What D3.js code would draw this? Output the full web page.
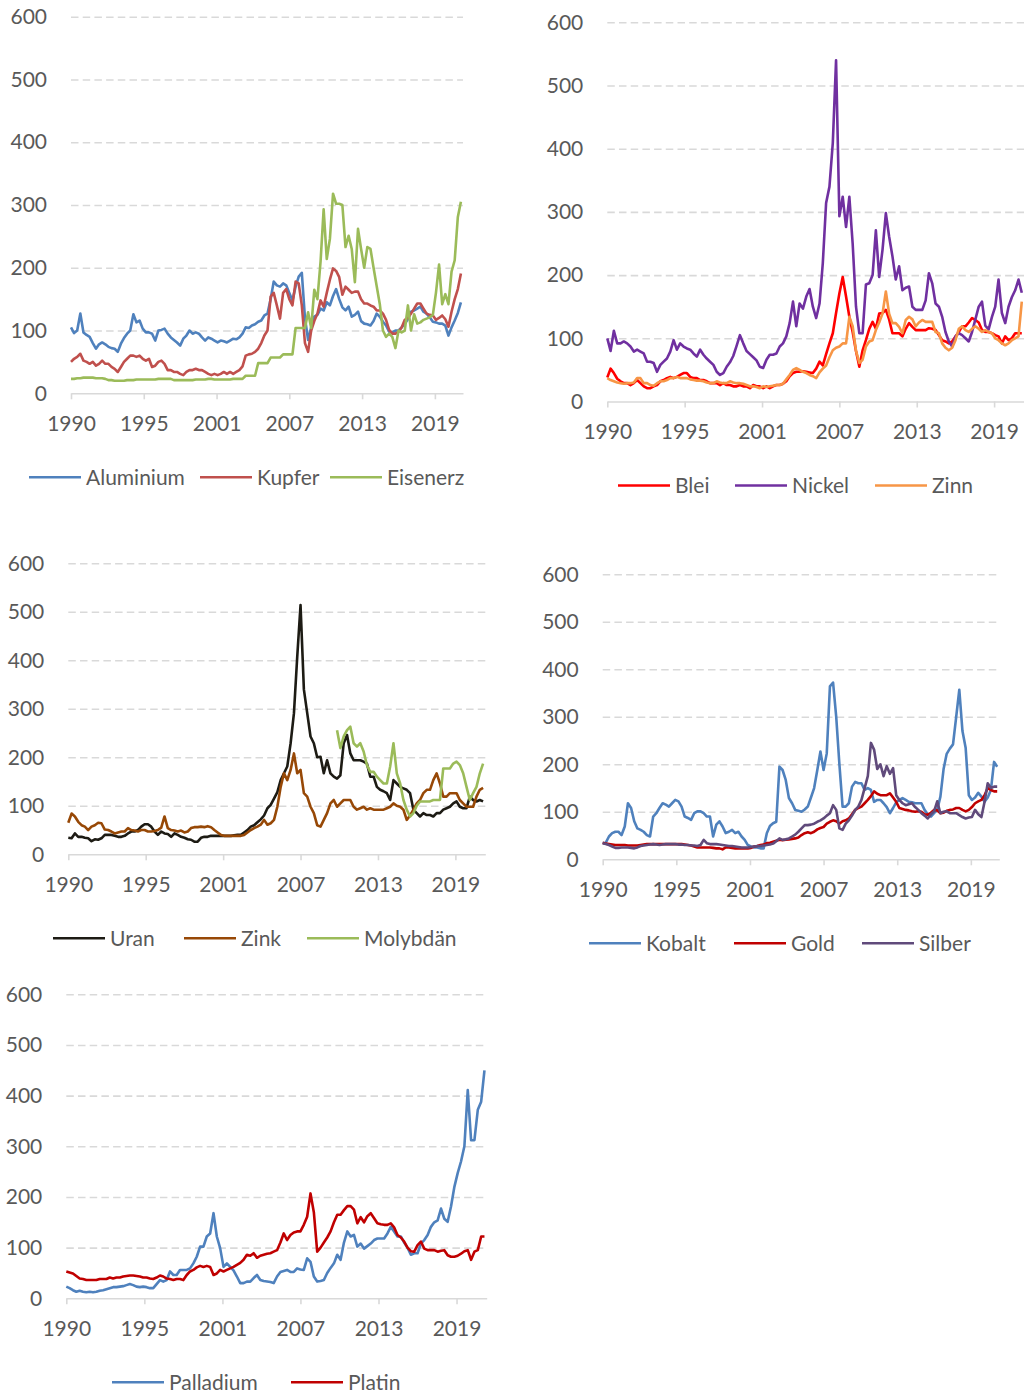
<!DOCTYPE html>
<html>
<head>
<meta charset="utf-8">
<script src="https://cdn.jsdelivr.net/npm/d3@7"></script>
<style>
  body { margin: 0; background: #fff; }
  svg { display: block; }
</style>
</head>
<body>
<div id="chart"></div>
<script>
// quarterly index values, 1990 Q1 .. 2021 Q2 (Molybdän from 2010 Q2)
const aluminium = [
  105, 96, 100, 127, 97, 93, 90, 80,
  71, 78, 81, 78, 74, 72, 71, 66,
  79, 88, 95, 100, 126, 113, 116, 103,
  97, 97, 95, 84, 100, 101, 103, 95,
  89, 85, 81, 76, 87, 92, 100, 95,
  97, 95, 89, 84, 89, 87, 84, 81,
  84, 83, 81, 84, 87, 86, 89, 95,
  105, 104, 108, 110, 114, 116, 124, 127,
  150, 178, 172, 170, 175, 172, 160, 148,
  170, 186, 192, 120, 85, 105, 122, 125,
  135, 132, 145, 140, 155, 166, 150, 137,
  132, 138, 122, 125, 130, 115, 111, 110,
  108, 115, 127, 122, 114, 108, 98, 97,
  100, 100, 105, 111, 118, 130, 132, 135,
  138, 130, 127, 121, 114, 113, 111, 111,
  108, 92, 105, 116, 128, 145
];
const kupfer = [
  50, 55, 58, 63, 52, 50, 47, 50,
  44, 47, 52, 47, 47, 42, 39, 34,
  42, 50, 55, 60, 60, 58, 60, 55,
  52, 55, 42, 44, 50, 52, 47, 37,
  37, 34, 34, 31, 29, 34, 37, 37,
  39, 37, 37, 34, 31, 29, 31, 29,
  31, 34, 31, 34, 31, 34, 37, 43,
  60, 62, 63, 66, 71, 80, 92, 100,
  154, 160, 140, 119, 160, 166, 150, 140,
  178, 175, 140, 80, 66, 100, 115, 127,
  148, 138, 160, 181, 199, 195, 185, 157,
  170, 165, 160, 162, 162, 150, 143, 143,
  140, 138, 132, 132, 127, 117, 101, 95,
  95, 98, 105, 117, 120, 127, 135, 143,
  143, 135, 127, 125, 124, 117, 120, 124,
  118, 106, 130, 150, 166, 191
];
const eisenerz = [
  23, 23, 24, 24, 25, 25, 25, 25,
  24, 24, 24, 23, 21, 21, 20, 20,
  20, 20, 21, 21, 21, 22, 22, 22,
  22, 22, 22, 22, 23, 23, 23, 23,
  23, 21, 21, 21, 21, 21, 21, 21,
  22, 22, 22, 22, 23, 23, 22, 22,
  22, 22, 22, 22, 23, 23, 23, 23,
  28, 28, 28, 28, 48, 48, 48, 48,
  57, 57, 57, 57, 62, 62, 62, 62,
  104, 104, 104, 104, 129, 104, 165, 150,
  210, 293, 214, 246, 318, 302, 302, 300,
  233, 251, 230, 177, 262, 230, 200, 233,
  230, 200, 171, 142, 100, 90, 95, 90,
  72, 100, 97, 100, 140, 100, 126, 111,
  113, 117, 119, 121, 125, 160, 205, 142,
  158, 142, 194, 212, 281, 305
];
const blei = [
  38, 52, 45, 36, 32, 29, 29, 26,
  29, 34, 29, 24, 21, 21, 24, 26,
  32, 34, 37, 39, 37, 39, 42, 45,
  45, 39, 37, 37, 34, 34, 32, 29,
  29, 29, 26, 29, 26, 26, 24, 24,
  26, 24, 24, 21, 26, 24, 24, 21,
  24, 21, 24, 26, 26, 28, 32, 40,
  45, 47, 47, 48, 47, 46, 45, 52,
  63, 57, 75, 92, 108, 140, 171, 197,
  166, 134, 110, 80, 55, 81, 97, 115,
  126, 115, 139, 140, 145, 130, 108, 108,
  108, 103, 115, 124, 118, 113, 113, 113,
  113, 116, 115, 113, 105, 97, 95, 92,
  95, 103, 110, 119, 119, 125, 132, 129,
  125, 113, 110, 110, 108, 105, 103, 92,
  103, 97, 100, 108, 108, 108
];
const nickel = [
  100, 80, 112, 92, 92, 95, 92, 87,
  79, 82, 79, 76, 63, 63, 61, 47,
  58, 63, 68, 79, 97, 82, 92, 87,
  84, 82, 76, 71, 82, 74, 68, 63,
  58, 47, 42, 45, 55, 62, 72, 88,
  105, 92, 80, 75, 70, 65, 55, 53,
  66, 74, 74, 76, 87, 92, 103, 124,
  158, 119, 155, 147, 166, 178, 150, 132,
  155, 219, 314, 340, 409, 540, 293, 324,
  276, 324, 250, 150, 108, 108, 185, 187,
  200, 271, 197, 240, 298, 261, 230, 193,
  214, 176, 180, 182, 150, 145, 145, 145,
  160, 203, 187, 155, 150, 134, 110, 95,
  87, 103, 108, 105, 100, 95, 110, 130,
  150, 158, 120, 114, 134, 150, 193, 140,
  124, 150, 165, 176, 193, 172
];
const zinn = [
  37, 34, 32, 30, 29, 28, 29, 29,
  30, 37, 37, 29, 29, 26, 25, 29,
  32, 32, 34, 37, 37, 39, 37, 37,
  37, 35, 34, 33, 33, 32, 30, 29,
  29, 32, 30, 29, 29, 32, 30, 29,
  29, 28, 26, 24, 24, 23, 21, 24,
  23, 24, 25, 26, 26, 28, 35, 42,
  50, 53, 50, 47, 45, 42, 40, 37,
  46, 52, 57, 70, 81, 85, 87, 92,
  92, 134, 119, 80, 61, 66, 87, 95,
  97, 113, 125, 139, 174, 139, 124, 124,
  118, 108, 129, 134, 130, 119, 125, 129,
  126, 126, 126, 110, 108, 92, 85, 81,
  85, 97, 115, 119, 113, 110, 115, 119,
  115, 110, 113, 110, 108, 100, 97, 92,
  89, 92, 97, 100, 103, 158
];
const uran = [
  34, 33, 43, 36, 36, 34, 33, 27,
  31, 30, 33, 40, 40, 40, 38, 36,
  36, 38, 43, 47, 47, 50, 57, 62,
  62, 57, 47, 40, 47, 43, 42, 36,
  43, 40, 36, 34, 31, 30, 26, 26,
  34, 36, 36, 38, 38, 38, 38, 38,
  38, 38, 39, 40, 40, 45, 50, 57,
  60, 66, 72, 80, 95, 102, 115, 128,
  153, 167, 181, 229, 291, 407, 514, 340,
  291, 243, 229, 200, 201, 167, 194, 167,
  160, 156, 163, 229, 246, 208, 194, 194,
  194, 191, 187, 160, 160, 139, 133, 130,
  126, 112, 153, 146, 139, 136, 133, 126,
  92, 85, 78, 85, 81, 81, 78, 85,
  85, 92, 95, 98, 105, 109, 98, 95,
  95, 119, 112, 109, 112, 109
];
const zink = [
  65, 84, 78, 67, 60, 57, 50, 57,
  60, 65, 64, 51, 50, 47, 43, 45,
  47, 47, 54, 50, 49, 47, 50, 50,
  47, 47, 48, 50, 55, 78, 54, 50,
  49, 47, 49, 45, 47, 54, 56, 56,
  57, 56, 58, 56, 50, 45, 40, 38,
  38, 38, 38, 38, 38, 40, 45, 50,
  54, 57, 61, 71, 61, 64, 71, 98,
  139, 167, 153, 174, 208, 167, 174, 126,
  119, 98, 85, 60, 57, 71, 85, 105,
  112, 98, 105, 112, 112, 112, 98, 92,
  95, 98, 92, 95, 92, 92, 92, 92,
  95, 98, 105, 100, 98, 92, 71, 80,
  92, 105, 112, 126, 133, 133, 153, 167,
  146, 119, 119, 126, 126, 126, 112, 105,
  98, 98, 98, 119, 133, 137
];
const molybdan = [
  256, 219, 243,
  256, 263, 229, 222, 229, 212, 184, 170,
  170, 160, 153, 146, 146, 181, 229, 167,
  146, 112, 92, 78, 85, 100, 109, 109,
  109, 109, 112, 112, 112, 177, 177, 177,
  187, 191, 184, 167, 139, 112, 126, 139,
  167, 187
];
const kobalt = [
  34, 35, 48, 55, 58, 58, 51, 69,
  118, 108, 80, 65, 62, 58, 51, 48,
  90, 97, 108, 118, 115, 111, 118, 125,
  122, 111, 90, 87, 83, 97, 101, 101,
  97, 90, 90, 48, 73, 80, 69, 55,
  58, 62, 55, 58, 48, 41, 30, 27,
  25, 25, 23, 23, 55, 70, 76, 79,
  195, 188, 167, 129, 118, 104, 102, 100,
  105, 111, 130, 150, 188, 227, 188, 223,
  364, 372, 300, 200, 111, 111, 118, 153,
  163, 160, 160, 146, 150, 146, 121, 125,
  125, 118, 110, 97, 108, 120, 125, 129,
  125, 121, 120, 118, 118, 118, 104, 95,
  90, 97, 104, 132, 190, 222, 233, 242,
  300, 357, 270, 235, 135, 125, 130, 140,
  132, 121, 130, 146, 205, 195
];
const gold = [
  35, 33, 32, 31, 30, 30, 30, 30,
  29, 29, 29, 29, 30, 31, 32, 32,
  32, 32, 32, 32, 32, 32, 32, 32,
  32, 32, 31, 30, 29, 27, 25, 25,
  25, 25, 25, 24, 23, 23, 21, 25,
  25, 24, 23, 23, 23, 23, 23, 24,
  27, 28, 30, 31, 34, 35, 37, 39,
  41, 40, 41, 42, 43, 44, 46, 51,
  55, 57, 55, 58, 63, 66, 68, 75,
  79, 82, 80, 75, 80, 82, 86, 95,
  104, 108, 111, 118, 125, 133, 143, 138,
  135, 135, 135, 139, 130, 121, 108, 106,
  104, 103, 101, 100, 101, 100, 95, 94,
  98, 104, 103, 97, 98, 102, 104, 105,
  108, 108, 104, 101, 104, 110, 118, 122,
  125, 135, 150, 146, 143, 143
];
const silber = [
  34, 32, 30, 27, 24, 24, 25, 25,
  25, 24, 23, 25, 28, 29, 30, 31,
  32, 31, 30, 31, 32, 32, 32, 32,
  31, 31, 30, 30, 29, 29, 28, 30,
  41, 34, 32, 32, 32, 31, 30, 29,
  28, 28, 27, 26, 25, 25, 25, 26,
  27, 28, 28, 29, 30, 31, 33, 38,
  44, 41, 42, 44, 48, 52, 58, 65,
  72, 72, 73, 75, 79, 82, 86, 92,
  97, 114, 104, 65, 62, 75, 82, 92,
  104, 111, 125, 150, 175, 245, 231, 190,
  200, 175, 196, 180, 192, 135, 125, 118,
  114, 116, 118, 110, 104, 97, 92, 86,
  95, 101, 122, 97, 100, 101, 97, 97,
  97, 93, 89, 86, 88, 89, 104, 95,
  89, 121, 160, 150, 153, 153
];
const palladium = [
  23, 20, 16, 13, 15, 13, 12, 13,
  12, 13, 15, 16, 18, 20, 22, 22,
  23, 24, 26, 28, 26, 23, 22, 23,
  22, 20, 20, 28, 36, 33, 36, 53,
  46, 46, 56, 56, 56, 59, 69, 82,
  102, 102, 122, 128, 168, 122, 99, 62,
  69, 62, 55, 43, 30, 30, 33, 33,
  40, 46, 36, 34, 33, 32, 30, 43,
  52, 54, 56, 52, 52, 59, 57, 56,
  79, 72, 43, 33, 34, 36, 50, 60,
  69, 86, 76, 110, 132, 122, 125, 102,
  108, 98, 103, 108, 115, 118, 118, 118,
  128, 141, 132, 122, 122, 110, 100, 86,
  89, 89, 108, 115, 125, 141, 150, 154,
  177, 157, 151, 181, 220, 247, 270, 300,
  411, 312, 312, 372, 388, 450
];
const platin = [
  53, 51, 49, 44, 39, 38, 36, 36,
  36, 36, 38, 38, 38, 41, 39, 41,
  41, 43, 44, 45, 45, 44, 43, 41,
  41, 39, 38, 41, 45, 43, 39, 38,
  36, 38, 38, 36, 46, 53, 56, 61,
  64, 62, 64, 62, 46, 49, 56, 53,
  56, 59, 62, 66, 70, 76, 86, 84,
  89, 80, 84, 86, 88, 89, 92, 95,
  110, 128, 115, 125, 130, 132, 132, 145,
  161, 207, 170, 92, 100, 110, 120, 132,
  150, 165, 165, 174, 182, 182, 175, 148,
  160, 150, 162, 168, 158, 148, 146, 145,
  145, 148, 140, 125, 120, 112, 100, 93,
  92, 105, 112, 98, 95, 95, 95, 92,
  94, 95, 85, 82, 82, 84, 88, 93,
  95, 76, 92, 95, 122, 122
];

const yTicks = [0, 100, 200, 300, 400, 500, 600];
const tickMonths = [0, 70, 140, 210, 280, 350];
const startDate = new Date(1990, 0, 1);
const endDate = new Date(2021, 5, 1);
const molybdanStart = new Date(2010, 3, 1);

const fontFamily = 'Lato, "Open Sans", sans-serif';
const fontSize = 21;
const textColor = '#595959';
const gridColor = '#d9d9d9';
const lineWidth = 2.6;

const panels = [
  {
    left: 71, right: 463, top: 16.7, bottom: 393.3,
    legendX: [29, 200, 330],
    series: [
      { name: 'Aluminium', values: aluminium, color: '#4f81bd' },
      { name: 'Kupfer', values: kupfer, color: '#c0504d' },
      { name: 'Eisenerz', values: eisenerz, color: '#9bbb59' },
    ],
  },
  {
    left: 607.3, right: 1024, top: 22.3, bottom: 401.5,
    legendX: [618, 735, 875],
    series: [
      { name: 'Blei', values: blei, color: '#ff0000' },
      { name: 'Nickel', values: nickel, color: '#7030a0' },
      { name: 'Zinn', values: zinn, color: '#f79646' },
    ],
  },
  {
    left: 68.3, right: 485.3, top: 563.3, bottom: 854.3,
    legendX: [53, 184, 307],
    series: [
      { name: 'Uran', values: uran, color: '#1d1b14' },
      { name: 'Zink', values: zink, color: '#974806' },
      { name: 'Molybdän', values: molybdan, color: '#9bbb59', start: molybdanStart },
    ],
  },
  {
    left: 602.7, right: 999.3, top: 574.3, bottom: 859.3,
    legendX: [589, 734, 862],
    series: [
      { name: 'Kobalt', values: kobalt, color: '#4f81bd' },
      { name: 'Gold', values: gold, color: '#c00000' },
      { name: 'Silber', values: silber, color: '#604a7b' },
    ],
  },
  {
    left: 66.3, right: 486.7, top: 994.3, bottom: 1298.3,
    legendX: [112, 291],
    series: [
      { name: 'Palladium', values: palladium, color: '#4f81bd' },
      { name: 'Platin', values: platin, color: '#c00000' },
    ],
  },
];

const svg = d3.select('#chart').append('svg')
  .attr('width', 1024)
  .attr('height', 1395);

svg.append('rect')
  .attr('width', 1024)
  .attr('height', 1395)
  .attr('fill', '#fff');

panels.forEach(p => drawPanel(svg, p));

function toPoints(values, start) {
  return values.map((v, i) => ({ date: d3.timeMonth.offset(start, 3 * i), value: v }));
}

function drawPanel(svg, p) {
  const x = d3.scaleTime().domain([startDate, endDate]).range([p.left, p.right]);
  const y = d3.scaleLinear().domain([0, 600]).range([p.bottom, p.top]);
  const tickDates = tickMonths.map(m => d3.timeMonth.offset(startDate, m));

  // y grid + labels
  const yAxis = svg.append('g')
    .attr('transform', `translate(${p.left},0)`)
    .call(d3.axisLeft(y).tickValues(yTicks).tickSize(-(p.right - p.left)).tickPadding(24))
    .attr('font-family', fontFamily)
    .attr('font-size', fontSize)
    .attr('color', textColor);
  yAxis.select('.domain').remove();
  yAxis.selectAll('.tick line')
    .attr('stroke', gridColor)
    .attr('stroke-width', 1.6)
    .attr('stroke-dasharray', '7.5,4.2')
    .attr('display', d => d === 0 ? 'none' : null);

  // x axis
  const xAxis = svg.append('g')
    .attr('transform', `translate(0,${p.bottom})`)
    .call(d3.axisBottom(x).tickValues(tickDates).tickFormat(d3.timeFormat('%Y'))
      .tickSize(6).tickSizeOuter(0).tickPadding(17))
    .attr('font-family', fontFamily)
    .attr('font-size', fontSize)
    .attr('color', textColor);
  xAxis.select('.domain').attr('stroke', gridColor).attr('stroke-width', 1.6);
  xAxis.selectAll('.tick line').attr('stroke', gridColor).attr('stroke-width', 1.6);

  // series
  const line = d3.line()
    .defined(d => d.value != null)
    .x(d => x(d.date))
    .y(d => y(d.value));

  svg.append('g')
    .selectAll('path')
    .data(p.series)
    .enter().append('path')
    .attr('fill', 'none')
    .attr('stroke', s => s.color)
    .attr('stroke-width', lineWidth)
    .attr('stroke-linejoin', 'round')
    .attr('d', s => line(toPoints(s.values, s.start || startDate)));

  // legend
  const legendY = p.bottom + 84;
  const items = svg.append('g')
    .selectAll('g')
    .data(p.series)
    .enter().append('g')
    .attr('transform', (s, i) => `translate(${p.legendX[i]},${legendY})`);

  items.append('line')
    .attr('x1', 0)
    .attr('x2', 52)
    .attr('stroke', s => s.color)
    .attr('stroke-width', lineWidth);

  items.append('text')
    .attr('x', 57)
    .attr('dy', '0.35em')
    .attr('font-family', fontFamily)
    .attr('font-size', fontSize)
    .attr('fill', textColor)
    .text(s => s.name);
}
</script>
</body>
</html>
